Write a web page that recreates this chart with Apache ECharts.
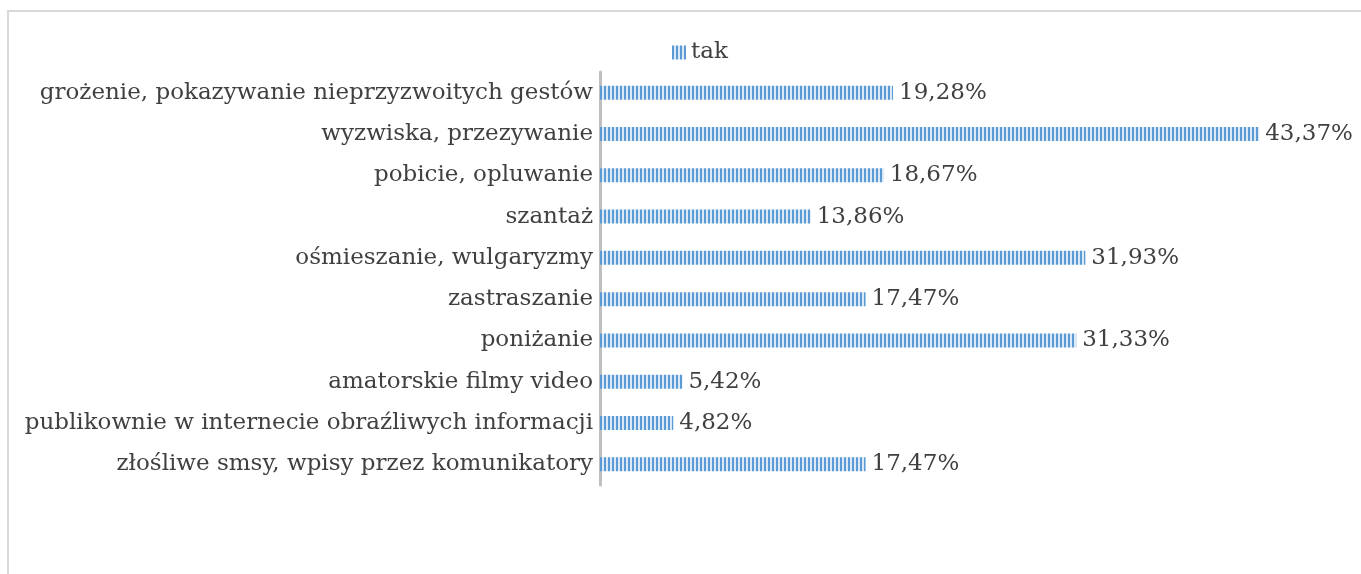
<!DOCTYPE html>
<html>
<head>
<meta charset="utf-8">
<script src="https://cdn.jsdelivr.net/npm/echarts@6/dist/echarts.min.js"></script>
<style>
  html, body { margin: 0; padding: 0; background: #fff; }
  #chart { width: 1361px; height: 574px; }
</style>
</head>
<body>
<div id="chart"></div>
<script>
  // dane z wykresu
  const categories = [
    'grożenie, pokazywanie nieprzyzwoitych gestów',
    'wyzwiska, przezywanie',
    'pobicie, opluwanie',
    'szantaż',
    'ośmieszanie, wulgaryzmy',
    'zastraszanie',
    'poniżanie',
    'amatorskie filmy video',
    'publikownie w internecie obraźliwych informacji',
    'złośliwe smsy, wpisy przez komunikatory'
  ];
  const takValues = [19.28, 43.37, 18.67, 13.86, 31.93, 17.47, 31.33, 5.42, 4.82, 17.47];
  const seriesName = 'tak';

  // wzór pionowych pasków jak w Excelu
  const makeStripes = () => {
    const c = document.createElement('canvas');
    c.width = 4;
    c.height = 4;
    const ctx = c.getContext('2d');
    ctx.fillStyle = '#dbe8f6';
    ctx.fillRect(0, 0, 4, 4);
    ctx.fillStyle = '#5b9bd5';
    ctx.fillRect(0, 0, 2, 4);
    return c;
  };
  const stripes = { image: makeStripes(), repeat: 'repeat' };

  const fontFamily = '"DejaVu Serif", "Liberation Serif", serif';
  const fontSize = 23;
  const myChart = echarts.init(document.getElementById('chart'));

  const options = {
    animation: false,
    graphic: [{
      type: 'polyline',
      shape: { points: [[8, 574], [8, 11], [1361, 11]] },
      style: { stroke: '#d9d9d9', lineWidth: 2, fill: null }
    }],
    legend: {
      data: [seriesName],
      icon: 'rect',
      top: 36,
      left: 667,
      itemWidth: 14,
      itemHeight: 14,
      itemGap: 4,
      textStyle: { fontFamily: fontFamily, fontSize: fontSize, color: '#404040' }
    },
    grid: {
      left: 600,
      top: 72,
      width: 760,
      height: 413,
      containLabel: false
    },
    xAxis: {
      type: 'value',
      show: false,
      min: 0,
      max: 50
    },
    yAxis: {
      type: 'category',
      data: categories,
      inverse: true,
      axisLine: { show: true, lineStyle: { color: '#bfbfbf', width: 3 } },
      axisTick: { show: false },
      axisLabel: {
        fontFamily: fontFamily,
        fontSize: fontSize,
        color: '#404040',
        margin: 7
      }
    },
    series: [{
      name: seriesName,
      type: 'bar',
      data: takValues,
      barWidth: 14,
      itemStyle: { color: stripes },
      label: {
        show: true,
        position: 'right',
        distance: 6,
        fontFamily: fontFamily,
        fontSize: fontSize,
        color: '#404040',
        formatter: p => p.value.toFixed(2).replace('.', ',') + '%'
      }
    }]
  };
  myChart.setOption(options);
</script>
</body>
</html>
